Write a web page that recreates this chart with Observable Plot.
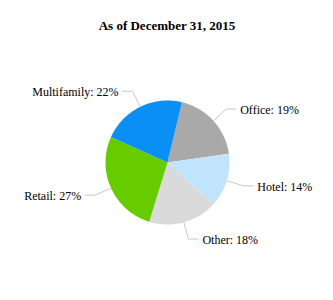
<!DOCTYPE html>
<html>
<head>
<meta charset="utf-8">
<script src="https://cdn.jsdelivr.net/npm/d3@7"></script>
<script src="https://cdn.jsdelivr.net/npm/@observablehq/plot@0.6"></script>
<style>
  body { margin: 0; background: #fff; }
</style>
</head>
<body>
<div id="chart"></div>
<script>
const title = "As of December 31, 2015";
const categories = ["Office", "Hotel", "Other", "Retail", "Multifamily"];
const shares = [19, 14, 18, 27, 22];
const colors = ["#a9a9a9", "#c0e4fc", "#dadada", "#66cc00", "#0a8ff5"];

// layout
const W = 333, H = 300;
const cx = 167, cy = 162, R = 62;       // pixels
const startDeg = 13.5;
const elbowR = 1.28;                    // in radius units
const hLen = 10 / R, gap = 4 / R;

const arcs = d3.pie().sort(null)
  .startAngle(startDeg * Math.PI / 180)
  .endAngle(startDeg * Math.PI / 180 + 2 * Math.PI)(shares);

const slicePts = [];
const leaderPts = [];
const labels = [];
arcs.forEach((a, i) => {
  const name = categories[i];
  slicePts.push({name, x: 0, y: 0});
  const n = Math.max(2, Math.ceil((a.endAngle - a.startAngle) / (Math.PI / 180)));
  for (let k = 0; k <= n; k++) {
    const t = a.startAngle + (a.endAngle - a.startAngle) * k / n;
    slicePts.push({name, x: Math.sin(t), y: -Math.cos(t)});
  }
  const m = (a.startAngle + a.endAngle) / 2;
  const right = Math.sin(m) >= 0;
  const ex = Math.sin(m) * elbowR, ey = -Math.cos(m) * elbowR;
  const endX = ex + (right ? hLen : -hLen);
  leaderPts.push({name, x: Math.sin(m), y: -Math.cos(m)});
  leaderPts.push({name, x: ex, y: ey});
  leaderPts.push({name, x: endX, y: ey});
  labels.push({
    text: `${name}: ${shares[i]}%`,
    x: endX + (right ? gap : -gap),
    y: ey,
    anchor: right ? "start" : "end"
  });
});

const chart = Plot.plot({
  width: W,
  height: H,
  margin: 0,
  x: {domain: [-cx / R, (W - cx) / R], range: [0, W], axis: null},
  y: {domain: [-cy / R, (H - cy) / R], range: [0, H], axis: null},
  color: {domain: categories, range: colors},
  style: {background: "#fff", fontFamily: "Liberation Serif"},
  marks: [
    Plot.line(slicePts, {x: "x", y: "y", z: "name", fill: "name", stroke: "none", curve: "linear-closed"}),
    Plot.line(leaderPts, {x: "x", y: "y", z: "name", stroke: "#c8c8c8", strokeWidth: 1}),
    Plot.text(labels.filter(d => d.anchor === "start"), {x: "x", y: "y", text: "text", textAnchor: "start", fontSize: 12, fill: "#000", fontFamily: "Liberation Serif", dy: 1}),
    Plot.text(labels.filter(d => d.anchor === "end"), {x: "x", y: "y", text: "text", textAnchor: "end", fontSize: 12, fill: "#000", fontFamily: "Liberation Serif", dy: 1}),
    Plot.text([title], {frameAnchor: "top", lineAnchor: "middle", dy: 25, fontSize: 13, fontWeight: "bold", fill: "#000", fontFamily: "Liberation Serif"})
  ]
});
document.getElementById("chart").appendChild(chart);
</script>
</body>
</html>
